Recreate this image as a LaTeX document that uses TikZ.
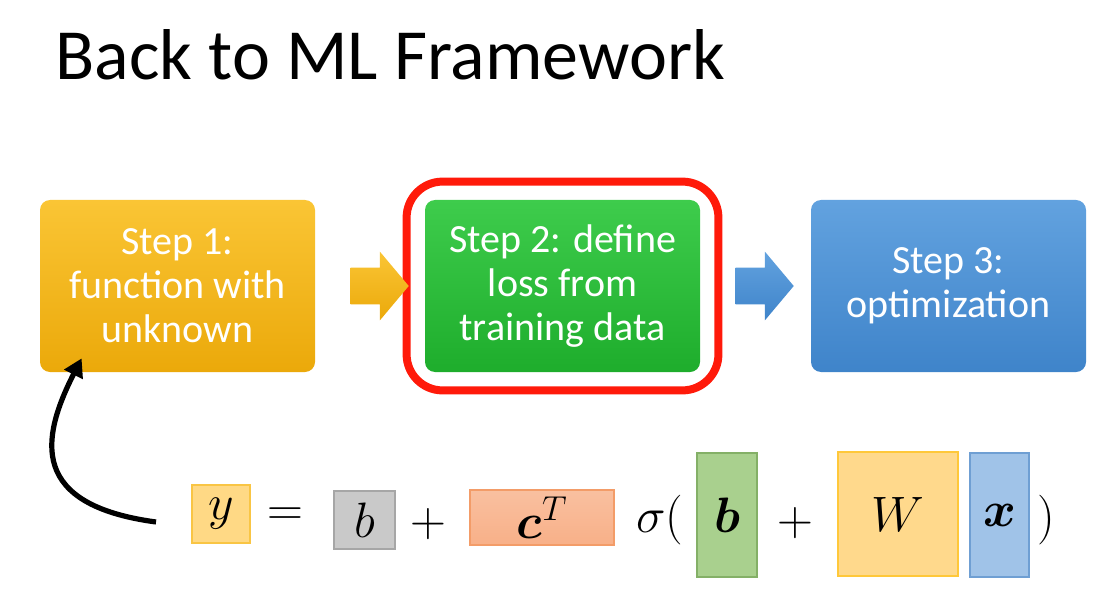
\documentclass[tikz,border=0pt]{standalone}
\usepackage{amsmath,amssymb}
\usepackage{fontspec}
\setmainfont{Carlito}
\usetikzlibrary{positioning,arrows.meta,fit,shapes.arrows,calc,backgrounds}

\definecolor{ylwtop}{HTML}{FAC535}
\definecolor{ylwbot}{HTML}{EBA90A}
\definecolor{grntop}{HTML}{3ECC4C}
\definecolor{grnbot}{HTML}{1EAD2C}
\definecolor{blutop}{HTML}{62A2DF}
\definecolor{blubot}{HTML}{3F84CA}
\definecolor{hlred}{HTML}{FF1A0A}
\definecolor{yfill}{HTML}{FFD985}
\definecolor{yline}{HTML}{F9C544}
\definecolor{gfill}{HTML}{C9C9C9}
\definecolor{gline}{HTML}{A6A6A6}
\definecolor{cfill}{HTML}{F8B088}
\definecolor{cline}{HTML}{F39C68}
\definecolor{bfill}{HTML}{A9D08E}
\definecolor{bline}{HTML}{84B067}
\definecolor{wfill}{HTML}{FFD98C}
\definecolor{wline}{HTML}{FFC83A}
\definecolor{xfill}{HTML}{A0C3E8}
\definecolor{xline}{HTML}{6F9FD3}

\begin{document}
\begin{tikzpicture}[
    x=0.5pt, y=-0.5pt,
    stepbox/.style={rounded corners=5pt, align=center, text=white,
                    minimum width=137.5pt, minimum height=86pt, inner sep=0pt,
                    font=\fontsize{20}{22}\selectfont},
    blockarr/.style={single arrow, single arrow head extend=8pt,
                     single arrow tip angle=100, minimum height=29pt,
                     inner ysep=9pt, inner xsep=0pt},
    mbox/.style={draw, line width=0.6pt, inner sep=0pt,
                 font=\fontsize{26}{30}\selectfont},
    op/.style={inner sep=0pt, font=\fontsize{26}{30}\selectfont},
    curve/.style={line width=2.6pt, -{Triangle[length=9pt,width=10pt]}}
  ]
  \useasboundingbox (0,0) rectangle (1117,604);

  % ---- title ----
  \node[anchor=base west, inner sep=0pt, font=\fontsize{36}{42}\selectfont,
        text=black] (title) at (55,80) {Back to ML Framework};

  % ---- the three steps ----
  \node[stepbox, top color=ylwtop, bottom color=ylwbot] (s1) at (177.5,286)
    {Step 1:\\function with\\unknown};
  \node[stepbox, top color=grntop, bottom color=grnbot] (s2) at (562.5,286)
    {Step 2: define\\loss from\\training data};
  \node[stepbox, top color=blutop, bottom color=blubot] (s3) at (948.5,286)
    {Step 3:\\optimization};

  % highlight round step 2
  \node[draw=hlred, line width=4pt, rounded corners=18pt, inner sep=9pt,
        fit=(s2)] (hl) {};

  % block arrows between the steps
  \node[blockarr, top color=ylwtop, bottom color=ylwbot] (a1) at (372,286) {};
  \node[blockarr, top color=blutop, bottom color=blubot] (a2) at (757,286) {};

  % ---- the model ----
  \node[mbox, fill=yfill, draw=yline, minimum width=29pt, minimum height=29pt]
    (yv) at (221,514) {$y$};
  \node[op] (eq) at (285,517) {$=$};
  \node[mbox, fill=gfill, draw=gline, minimum width=30.5pt, minimum height=29pt]
    (b0) at (364.5,520) {$b$};
  \node[op] (p1) at (428,524) {$+$};
  \node[mbox, top color=cfill!80!white, bottom color=cfill, draw=cline,
        minimum width=72pt, minimum height=27.5pt]
    (cT) at (542,517.5) {$\boldsymbol{c}^{T}$};
  \node[op] (sg) at (660,520) {$\sigma($};
  \node[mbox, fill=bfill, draw=bline, minimum width=30pt, minimum height=62pt]
    (bv) at (727,515) {$\boldsymbol{b}$};
  \node[op] (p2) at (795,523) {$+$};
  \node[mbox, fill=wfill, draw=wline, minimum width=60pt, minimum height=62pt]
    (Wm) at (898,514) {$W$};
  \node[mbox, fill=xfill, draw=xline, minimum width=29.5pt, minimum height=62pt]
    (xv) at (999.5,515) {$\boldsymbol{x}$};
  \node[op] (cp) at (1046,520) {$)$};

  % ---- back to step 1 ----
  \coordinate (tail) at (156,522);
  \draw[curve] (tail) .. controls (30,505) and (40,440)
    .. ([xshift=21pt, yshift=7pt]s1.south west);

\end{tikzpicture}
\end{document}
